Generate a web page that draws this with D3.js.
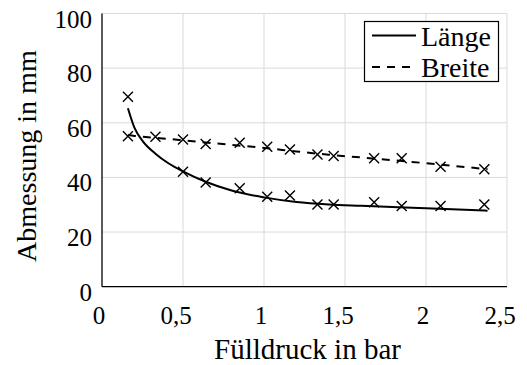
<!DOCTYPE html>
<html>
<head>
<meta charset="utf-8">
<script src="https://cdn.jsdelivr.net/npm/d3@7"></script>
<style>
  body { margin: 0; background: #fff; }
</style>
</head>
<body>
<svg id="chart"></svg>
<script>
// Messpunkte (Kreuze)
const druckLaenge = [0.16, 0.5, 0.64, 0.85, 1.02, 1.16, 1.33, 1.43, 1.68, 1.85, 2.09, 2.36];
const messLaenge = [69.5, 42.1, 38.1, 36.0, 32.9, 33.4, 30.1, 30.1, 30.9, 29.5, 29.5, 30.1];
const druckBreite = [0.16, 0.33, 0.5, 0.64, 0.85, 1.02, 1.16, 1.33, 1.43, 1.68, 1.85, 2.09, 2.36];
const messBreite = [55.1, 54.9, 53.9, 52.2, 52.7, 51.2, 50.2, 48.4, 47.8, 47.0, 47.0, 43.9, 43.0];

// Ausgleichskurven
const fitDruck = [0.16, 0.2, 0.25, 0.33, 0.41, 0.5, 0.64, 0.8, 1.0, 1.2, 1.4, 1.6, 2.0, 2.38];
const fitLaenge = [65.3, 58.2, 53.4, 48.7, 45.2, 42.2, 38.4, 35.2, 32.7, 31.0, 30.1, 29.6, 28.7, 27.8];
const fitBreite = [55.5, 55.2, 54.9, 54.5, 54.1, 53.6, 52.8, 51.9, 50.8, 49.5, 48.3, 47.3, 45.2, 43.0];

// Achsen
const xTicks = [0, 0.5, 1, 1.5, 2, 2.5];
const xTickLabels = ["0", "0,5", "1", "1,5", "2", "2,5"];
const yTicks = [0, 20, 40, 60, 80, 100];
const legendLabels = ["Länge", "Breite"];

const schrift = "'Liberation Serif', 'DejaVu Serif', 'Times New Roman', Times, serif";

const width = 527, height = 365;
const margin = { top: 13.5, right: 20, bottom: 78.3, left: 102 };

const svg = d3.select("#chart")
  .attr("width", width)
  .attr("height", height)
  .attr("font-family", schrift);

const x = d3.scaleLinear().domain([0, 2.5]).range([margin.left, width - margin.right]);
const y = d3.scaleLinear().domain([0, 100]).range([height - margin.bottom, margin.top]);

// Gitter
svg.append("g")
  .selectAll("line")
  .data(xTicks.slice(1))
  .enter().append("line")
  .attr("x1", d => x(d)).attr("x2", d => x(d))
  .attr("y1", y(0)).attr("y2", y(100))
  .attr("stroke", "#dadada").attr("stroke-width", 1);

svg.append("g")
  .selectAll("line")
  .data(yTicks.slice(1))
  .enter().append("line")
  .attr("x1", x(0)).attr("x2", x(2.5))
  .attr("y1", d => y(d)).attr("y2", d => y(d))
  .attr("stroke", "#dadada").attr("stroke-width", 1);

// Achsenlinien links und unten
svg.append("line")
  .attr("x1", x(0)).attr("x2", x(0))
  .attr("y1", y(0)).attr("y2", y(100))
  .attr("stroke", "#000").attr("stroke-width", 1.3);
svg.append("line")
  .attr("x1", x(0)).attr("x2", x(2.5))
  .attr("y1", y(0)).attr("y2", y(0))
  .attr("stroke", "#000").attr("stroke-width", 1.3);

// Beschriftungen
svg.append("g")
  .selectAll("text")
  .data(xTicks)
  .enter().append("text")
  .attr("x", (d, i) => x(d) + (xTickLabels[i].includes(",") ? -7 : -3))
  .attr("y", y(0) + 37)
  .attr("text-anchor", "middle")
  .attr("font-family", schrift)
  .attr("font-size", 25)
  .text((d, i) => xTickLabels[i]);

svg.append("g")
  .selectAll("text")
  .data(yTicks)
  .enter().append("text")
  .attr("x", x(0) - 10)
  .attr("y", d => y(d) + 14)
  .attr("text-anchor", "end")
  .attr("font-family", schrift)
  .attr("font-size", 25)
  .text(d => d);

svg.append("text")
  .attr("x", (x(0) + x(2.5)) / 2 + 3)
  .attr("y", 359)
  .attr("text-anchor", "middle")
  .attr("font-family", schrift)
  .attr("font-size", 29)
  .text("Fülldruck in bar");

svg.append("text")
  .attr("transform", `translate(36,${(y(0) + y(100)) / 2 + 6}) rotate(-90)`)
  .attr("text-anchor", "middle")
  .attr("font-family", schrift)
  .attr("font-size", 28)
  .text("Abmessung in mm");

// Kurven
const linie = d3.line()
  .x(d => x(d[0]))
  .y(d => y(d[1]))
  .curve(d3.curveMonotoneX);

svg.append("path")
  .datum(fitDruck.map((d, i) => [d, fitBreite[i]]))
  .attr("d", linie)
  .attr("fill", "none")
  .attr("stroke", "#000")
  .attr("stroke-width", 2)
  .attr("stroke-dasharray", "8,7");

svg.append("path")
  .datum(fitDruck.map((d, i) => [d, fitLaenge[i]]))
  .attr("d", linie)
  .attr("fill", "none")
  .attr("stroke", "#000")
  .attr("stroke-width", 2);

// Kreuze
function kreuze(xs, ys) {
  const s = 5;
  const pts = xs.map((d, i) => [x(d), y(ys[i])]);
  svg.append("g")
    .selectAll("path")
    .data(pts)
    .enter().append("path")
    .attr("d", p => `M${p[0] - s},${p[1] - s}L${p[0] + s},${p[1] + s}M${p[0] - s},${p[1] + s}L${p[0] + s},${p[1] - s}`)
    .attr("stroke", "#000")
    .attr("stroke-width", 1.4)
    .attr("fill", "none");
}
kreuze(druckLaenge, messLaenge);
kreuze(druckBreite, messBreite);

// Legende
const leg = svg.append("g");
leg.append("rect")
  .attr("x", 364.5).attr("y", 21.5)
  .attr("width", 134).attr("height", 60)
  .attr("fill", "#fff")
  .attr("stroke", "#000").attr("stroke-width", 1.2);

legendLabels.forEach((name, i) => {
  const ly = 35.5 + i * 31.5;
  leg.append("line")
    .attr("x1", 372).attr("x2", 416)
    .attr("y1", ly).attr("y2", ly)
    .attr("stroke", "#000").attr("stroke-width", 2)
    .attr("stroke-dasharray", i === 1 ? "8,7" : null);
  leg.append("text")
    .attr("x", 421)
    .attr("y", ly + 10)
    .attr("font-family", schrift)
    .attr("font-size", 28)
    .text(name);
});
</script>
</body>
</html>
